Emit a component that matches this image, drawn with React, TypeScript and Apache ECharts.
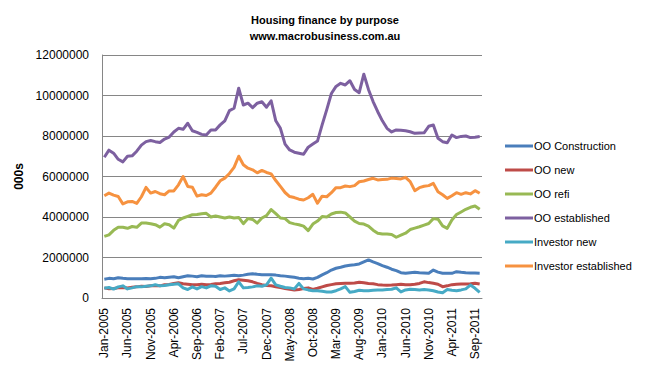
import React, { useEffect, useRef } from "react";
import * as echarts from "echarts";

const months = ["Jan", "Feb", "Mar", "Apr", "May", "Jun", "Jul", "Aug", "Sep", "Oct", "Nov", "Dec"];
const categories: string[] = [];
for (let y = 2005; y <= 2011; y++) {
  for (let m = 0; m < 12; m++) {
    if (y === 2011 && m > 9) break;
    categories.push(`${months[m]}-${y}`);
  }
}

const seriesNames = ["OO Construction", "OO new", "OO refi", "OO established", "Investor new", "Investor established"];
const colors = ["#4A7EBB", "#BE4B48", "#98B954", "#7D60A0", "#46AAC5", "#F69240"];

const ooConstruction = [
  930000, 970000, 950000, 1000000, 970000, 950000, 950000, 950000, 950000, 960000,
  950000, 970000, 1020000, 1000000, 1030000, 1050000, 1000000, 1050000, 1100000, 1080000,
  1050000, 1100000, 1070000, 1080000, 1060000, 1100000, 1080000, 1100000, 1120000, 1100000,
  1130000, 1170000, 1200000, 1170000, 1150000, 1150000, 1150000, 1130000, 1100000, 1080000,
  1050000, 1020000, 980000, 950000, 970000, 940000, 1020000, 1140000, 1250000, 1380000,
  1470000, 1520000, 1580000, 1620000, 1640000, 1680000, 1780000, 1880000, 1780000, 1700000,
  1600000, 1520000, 1420000, 1350000, 1250000, 1220000, 1250000, 1270000, 1250000, 1240000,
  1220000, 1380000, 1280000, 1220000, 1220000, 1220000, 1300000, 1270000, 1250000, 1240000,
  1230000, 1220000,
];

const ooNew = [
  500000, 460000, 470000, 500000, 520000, 500000, 530000, 550000, 580000, 570000,
  600000, 620000, 600000, 650000, 670000, 720000, 750000, 700000, 680000, 650000,
  660000, 680000, 650000, 670000, 700000, 720000, 750000, 780000, 850000, 900000,
  880000, 850000, 800000, 720000, 660000, 620000, 600000, 560000, 520000, 470000,
  430000, 400000, 420000, 470000, 500000, 420000, 480000, 550000, 620000, 660000,
  700000, 720000, 730000, 730000, 740000, 780000, 750000, 720000, 700000, 660000,
  640000, 630000, 640000, 660000, 680000, 660000, 650000, 680000, 720000, 800000,
  760000, 730000, 680000, 560000, 600000, 660000, 680000, 690000, 690000, 700000,
  730000, 690000,
];

const ooRefi = [
  3040000, 3120000, 3340000, 3490000, 3490000, 3440000, 3530000, 3490000, 3700000, 3700000,
  3670000, 3620000, 3500000, 3670000, 3620000, 3450000, 3830000, 3950000, 4030000, 4110000,
  4120000, 4160000, 4180000, 4000000, 4050000, 4000000, 3950000, 4000000, 3950000, 3980000,
  3670000, 3930000, 3880000, 3700000, 3950000, 4070000, 4370000, 4170000, 3950000, 3920000,
  3720000, 3660000, 3620000, 3550000, 3330000, 3650000, 3800000, 4020000, 4000000, 4150000,
  4220000, 4240000, 4200000, 4000000, 3800000, 3680000, 3650000, 3550000, 3350000, 3200000,
  3160000, 3160000, 3140000, 3000000, 3100000, 3200000, 3380000, 3450000, 3520000, 3600000,
  3680000, 3920000, 3890000, 3560000, 3440000, 3850000, 4120000, 4250000, 4380000, 4480000,
  4540000, 4380000,
];

const ooEstablished = [
  6950000, 7300000, 7150000, 6850000, 6720000, 7000000, 7020000, 7250000, 7550000, 7720000,
  7780000, 7720000, 7680000, 7850000, 7950000, 8200000, 8380000, 8330000, 8630000, 8260000,
  8180000, 8080000, 8050000, 8300000, 8300000, 8550000, 8750000, 9250000, 9370000, 10360000,
  9530000, 9620000, 9400000, 9620000, 9690000, 9420000, 9740000, 8750000, 8380000, 7600000,
  7310000, 7200000, 7150000, 7100000, 7450000, 7600000, 7750000, 8550000, 9300000, 10100000,
  10450000, 10600000, 10520000, 10730000, 10300000, 10140000, 11050000, 10300000, 9700000, 9200000,
  8750000, 8380000, 8200000, 8300000, 8280000, 8260000, 8210000, 8130000, 8150000, 8160000,
  8480000, 8540000, 7890000, 7720000, 7670000, 8050000, 7920000, 7980000, 8000000, 7920000,
  7940000, 7970000,
];

const investorNew = [
  480000, 520000, 440000, 550000, 600000, 450000, 500000, 560000, 550000, 580000,
  600000, 650000, 600000, 620000, 650000, 680000, 700000, 500000, 420000, 550000,
  450000, 560000, 500000, 600000, 580000, 420000, 500000, 350000, 450000, 800000,
  500000, 520000, 550000, 600000, 580000, 650000, 980000, 650000, 580000, 520000,
  500000, 450000, 720000, 450000, 400000, 360000, 360000, 330000, 300000, 300000,
  360000, 450000, 560000, 280000, 320000, 380000, 360000, 360000, 380000, 400000,
  400000, 420000, 430000, 500000, 300000, 400000, 430000, 420000, 400000, 420000,
  400000, 360000, 300000, 260000, 420000, 380000, 360000, 400000, 450000, 640000,
  480000, 280000,
];

const investorEstablished = [
  5050000, 5180000, 5080000, 5010000, 4650000, 4750000, 4770000, 4670000, 5000000, 5460000,
  5180000, 5260000, 5150000, 5100000, 5290000, 5290000, 5590000, 6000000, 5510000, 5470000,
  5030000, 5100000, 5060000, 5180000, 5470000, 5790000, 5920000, 6150000, 6450000, 7000000,
  6580000, 6410000, 6330000, 6180000, 6300000, 6200000, 6130000, 5800000, 5510000, 5210000,
  5010000, 4960000, 4880000, 4840000, 4950000, 5120000, 4680000, 5030000, 5000000, 5200000,
  5450000, 5450000, 5530000, 5500000, 5550000, 5740000, 5780000, 5850000, 5910000, 5830000,
  5850000, 5860000, 5920000, 5900000, 5880000, 5960000, 5750000, 5300000, 5450000, 5520000,
  5550000, 5660000, 5250000, 5100000, 4920000, 5050000, 5200000, 5120000, 5200000, 5140000,
  5300000, 5170000,
];

const seriesData = [ooConstruction, ooNew, ooRefi, ooEstablished, investorNew, investorEstablished];

const FONT = "'Liberation Sans', Arial, sans-serif";

export default function App() {
  const ref = useRef<HTMLDivElement>(null);
  useEffect(() => {
    document.body.style.margin = "0";
    if (!ref.current) return;
    const chart = echarts.init(ref.current, undefined, { renderer: "svg" });
    chart.setOption({
      animation: false,
      backgroundColor: "#ffffff",
      textStyle: { fontFamily: FONT },
      title: {
        text: "Housing finance by purpose\nwww.macrobusiness.com.au",
        left: "center",
        top: 7,
        textStyle: { fontSize: 11, fontWeight: "bold", color: "#000", lineHeight: 16, fontFamily: FONT },
      },
      legend: {
        orient: "vertical",
        left: 500,
        top: 134,
        icon: "rect",
        itemWidth: 28,
        itemHeight: 3,
        itemGap: 10,
        data: seriesNames,
        textStyle: { fontSize: 11, color: "#000", fontFamily: FONT, lineHeight: 14, padding: [0, 0, 0, -4] },
      },
      grid: { left: 102, right: 168, top: 55, bottom: 70, containLabel: false },
      xAxis: {
        type: "category",
        data: categories,
        boundaryGap: true,
        axisLine: { lineStyle: { color: "#868686", width: 1 } },
        axisTick: { show: false },
        axisLabel: { interval: 4, rotate: 90, fontSize: 12, color: "#000", margin: 10, fontFamily: FONT },
        splitLine: { show: false },
      },
      yAxis: {
        type: "value",
        min: 0,
        max: 12000000,
        interval: 2000000,
        name: "000s",
        nameLocation: "middle",
        nameRotate: 90,
        nameGap: 76,
        nameTextStyle: { fontSize: 12, fontWeight: "bold", color: "#000", fontFamily: FONT },
        axisLine: { show: true, lineStyle: { color: "#868686", width: 1 } },
        axisTick: { show: false },
        axisLabel: { fontSize: 12, color: "#000", margin: 13, formatter: (v: number) => String(v), fontFamily: FONT },
        splitLine: { lineStyle: { color: "#868686", width: 1 } },
      },
      series: seriesNames.map((name, i) => ({
        name,
        type: "line",
        data: seriesData[i],
        showSymbol: false,
        symbol: "none",
        color: colors[i],
        lineStyle: { width: 3, color: colors[i], join: "round" },
        z: i === 3 || i === 5 ? 3 : 2,
      })),
    });
    return () => chart.dispose();
  }, []);
  return <div ref={ref} style={{ width: 650, height: 368 }} />;
}
